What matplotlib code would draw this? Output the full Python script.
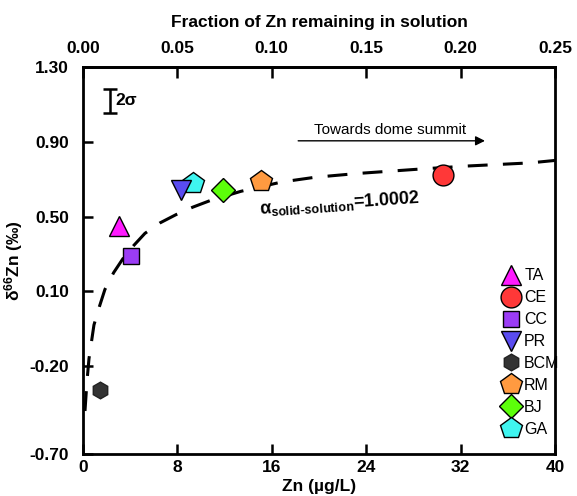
import matplotlib
matplotlib.use("Agg")
import matplotlib.pyplot as plt

plt.rcParams['font.family'] = ['Liberation Sans', 'DejaVu Sans']
plt.rcParams['mathtext.fontset'] = 'custom'
plt.rcParams['mathtext.bf'] = 'Liberation Sans:bold'
plt.rcParams['mathtext.rm'] = 'Liberation Sans:bold'
plt.rcParams['mathtext.it'] = 'Liberation Sans:bold'
plt.rcParams['mathtext.default'] = 'bf'

# sample data: Zn (ug/L), d66Zn (permil)
sites = ['TA', 'CE', 'CC', 'PR', 'BCM', 'RM', 'BJ', 'GA']
zn = [3.05, 30.5, 4.07, 8.3, 1.44, 15.1, 11.9, 9.3]
d66 = [0.45, 0.72, 0.29, 0.64, -0.43, 0.69, 0.64, 0.68]
markers = ['^', 'o', 's', 'v', 'h', 'p', 'D', 'p']
colors = ['#ff1aff', '#ff3838', '#9b3cf5', '#5a4cf0', '#333333', '#ff9a40', '#5cff0a', '#3ff5f0']
sizes = [15, 15, 12, 15, 12, 16, 12, 16]
zorders = [3, 3, 3, 5, 3, 3, 3, 4]

# Rayleigh model curve
curve_zn = [0.17, 0.34, 0.51, 0.93, 1.4, 1.86, 2.6, 3.39, 4.3, 5.25, 6.5, 7.88,
            9.3, 10.76, 13.39, 16.86, 19.66, 23.2, 28.8, 32.5, 37.9, 40.0]
curve_d66 = [-0.54, -0.38, -0.26, -0.08, 0.02, 0.11, 0.20, 0.275, 0.345, 0.41,
             0.465, 0.51, 0.55, 0.585, 0.635, 0.685, 0.71, 0.73, 0.755, 0.77, 0.787, 0.80]

y_ticks = [1.30, 0.90, 0.50, 0.10, -0.30, -0.77]
y_labels = ['1.30', '0.90', '0.50', '0.10', '-0.20', '-0.70']
x_ticks = [0, 8, 16, 24, 32, 40]
f_ticks = [0.00, 0.05, 0.10, 0.15, 0.20, 0.25]

fs = 12.5

fig = plt.figure(figsize=(5.77, 4.96), dpi=100)
ax = fig.add_axes([0.1438, 0.0847, 0.8181, 0.7803])

ax.plot(curve_zn, curve_d66, color='black', lw=2.2, dashes=(6.5, 5), zorder=2)

for s, x, y, m, c, ms, zo in zip(sites, zn, d66, markers, colors, sizes, zorders):
    ec = '#222222' if s == 'BCM' else 'black'
    ax.plot(x, y, linestyle='none', marker=m, markersize=ms, markerfacecolor=c,
            markeredgecolor=ec, markeredgewidth=1.0, label=s, zorder=zo)

# 2 sigma error bar
ax.errorbar(2.3, 1.118, yerr=0.062, color='black', capsize=5, capthick=1.8,
            elinewidth=1.8)
ax.text(2.75, 1.118, '2σ', fontsize=fs, fontweight='bold', va='center', ha='left')

ax.annotate('', xy=(34.3, 0.905), xytext=(18.0, 0.905),
            arrowprops=dict(arrowstyle='-|>', color='black', lw=1.0,
                            mutation_scale=14))
ax.text(26.0, 0.925, 'Towards dome summit', fontsize=11, ha='center', va='bottom')

ax.text(15.0, 0.515, r'$\alpha_{solid\text{-}solution}$=1.0002', fontsize=13,
        fontweight='bold', rotation=4, ha='left', va='baseline',
        rotation_mode='anchor')

ax.set_xlim(0, 40)
ax.set_ylim(-0.77, 1.30)
ax.set_xticks(x_ticks)
ax.set_xticklabels([str(t) for t in x_ticks], fontweight='bold', fontsize=fs)
ax.set_yticks(y_ticks)
ax.set_yticklabels(y_labels, fontweight='bold', fontsize=fs)
ax.tick_params(direction='in', length=7, width=1.8)
ax.tick_params(axis='x', pad=4)
ax.tick_params(axis='y', pad=10)
ax.set_xlabel('Zn (µg/L)', fontsize=fs, fontweight='bold', labelpad=3)
ax.set_ylabel('δ$^{66}$Zn (‰)', fontsize=fs, fontweight='bold', labelpad=3)
for sp in ax.spines.values():
    sp.set_linewidth(2.0)

top = ax.secondary_xaxis('top', functions=(lambda z: z / 160.0, lambda f: f * 160.0))
top.set_xticks(f_ticks)
top.set_xticklabels(['%.2f' % t for t in f_ticks], fontweight='bold', fontsize=fs)
top.tick_params(direction='in', length=8, width=1.8, pad=8)
top.set_xlabel('Fraction of Zn remaining in solution', fontsize=fs,
               fontweight='bold', labelpad=10)
top.spines['top'].set_linewidth(2.0)

leg = ax.legend(loc='lower right', bbox_to_anchor=(1.01, 0.045), frameon=False,
                fontsize=11.5, handletextpad=0.35, labelspacing=0.43,
                borderaxespad=0.0, borderpad=0.0, handlelength=1.0)

fig.savefig('out.png', dpi=100)
